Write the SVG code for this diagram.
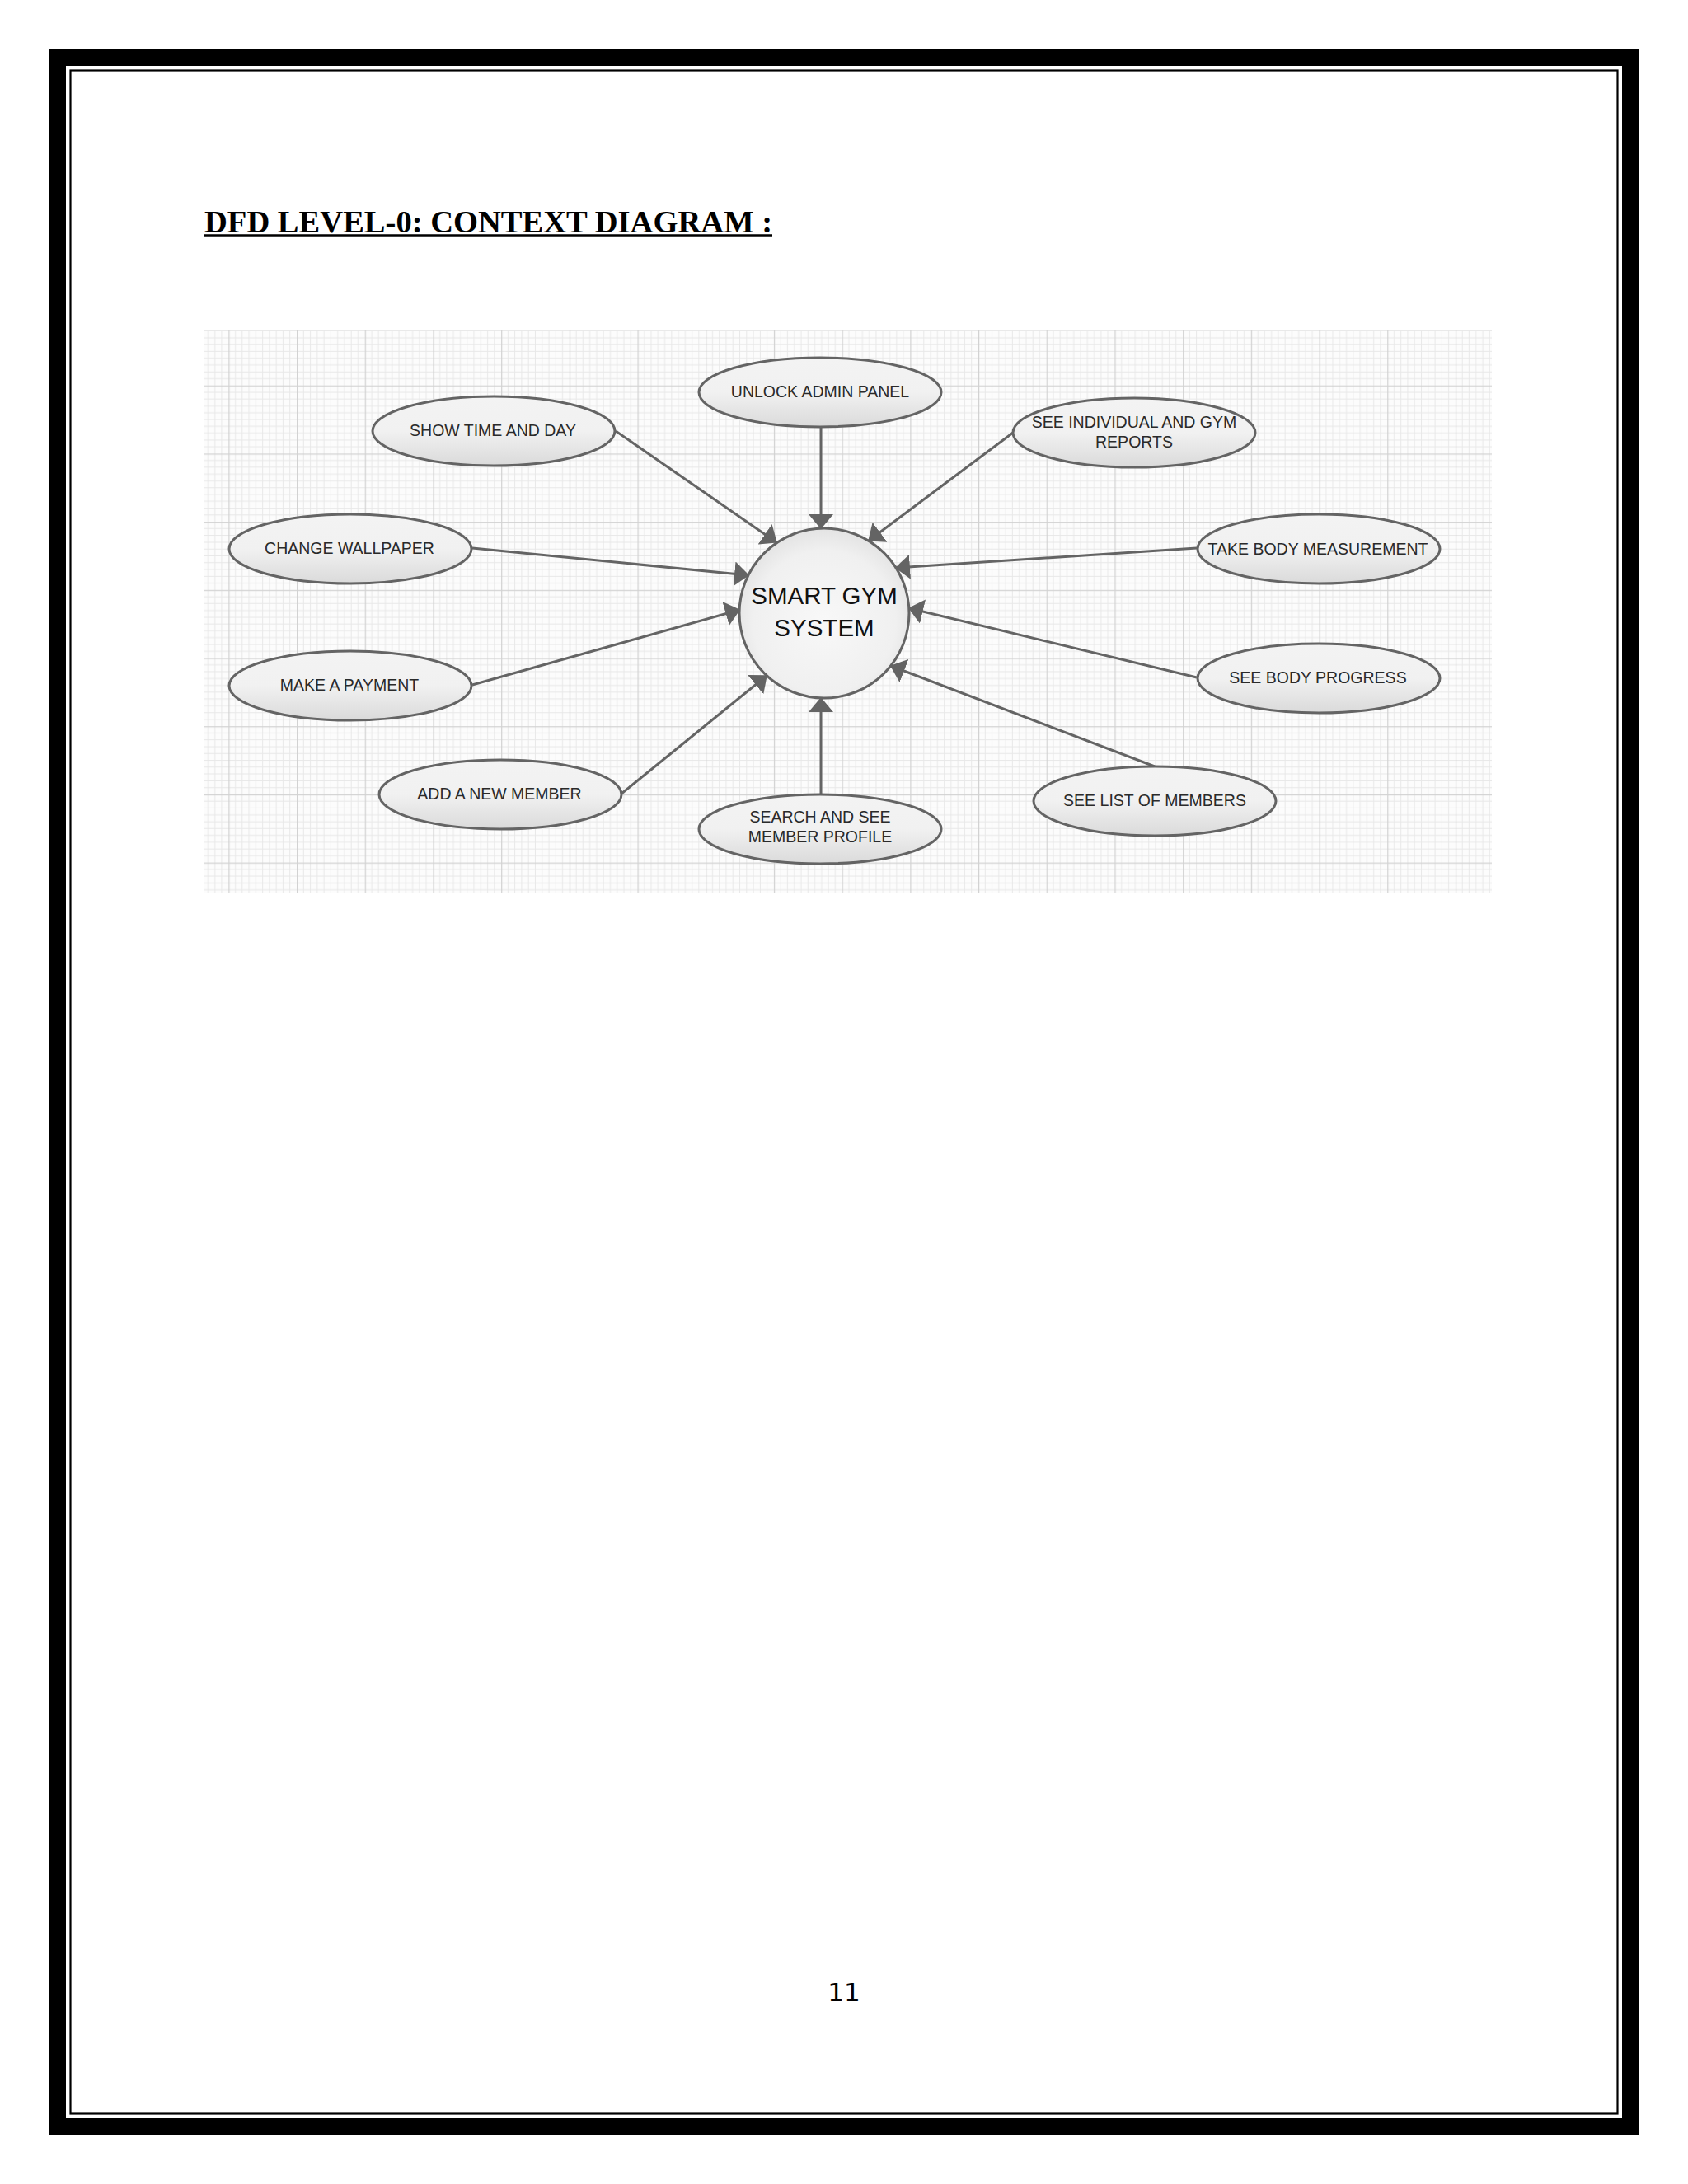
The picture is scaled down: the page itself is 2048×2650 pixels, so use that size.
<svg xmlns="http://www.w3.org/2000/svg" width="2048" height="2650" viewBox="0 0 2048 2650">
<style>
.node ellipse{fill:url(#eg);stroke:#646464;stroke-width:3}
.lbl{font-family:"Liberation Sans",Arial,sans-serif;font-size:19.5px;fill:#2a2a2a;text-anchor:middle}
.conn line{stroke:#646464;stroke-width:3;marker-end:url(#arr)}
</style>
<defs>
<linearGradient id="eg" x1="0" y1="0" x2="0" y2="1">
<stop offset="0" stop-color="#f3f3f3"/>
<stop offset="0.5" stop-color="#f1f1f1"/>
<stop offset="1" stop-color="#dadada"/>
</linearGradient>
<radialGradient id="cg" cx="0.5" cy="0.55" r="0.6">
<stop offset="0" stop-color="#f8f8f8"/>
<stop offset="0.7" stop-color="#f0f0f0"/>
<stop offset="1" stop-color="#dedede"/>
</radialGradient>
<pattern id="grid" x="277.3" y="467.7" width="82.7" height="82.7" patternUnits="userSpaceOnUse">
<path d="M8.27 0V82.7M16.54 0V82.7M24.81 0V82.7M33.08 0V82.7M41.35 0V82.7M49.62 0V82.7M57.89 0V82.7M66.16 0V82.7M74.43 0V82.7M0 8.27H82.7M0 16.54H82.7M0 24.81H82.7M0 33.08H82.7M0 41.35H82.7M0 49.62H82.7M0 57.89H82.7M0 66.16H82.7M0 74.43H82.7" stroke="#e8e8e8" stroke-width="1" fill="none"/>
<path d="M0.6 0V82.7M0 0.6H82.7" stroke="#d2d2d2" stroke-width="1.3" fill="none"/>
</pattern>
<marker id="arr" viewBox="0 0 18 30" markerWidth="18" markerHeight="30" refX="17" refY="15" orient="auto" markerUnits="userSpaceOnUse">
<path d="M0 0L18 15L0 30z" fill="#646464"/>
</marker>
</defs>
<rect x="0" y="0" width="2048" height="2650" fill="#ffffff"/>
<g id="frame" fill="none">
<rect x="70" y="70" width="1908" height="2510" stroke="#000" stroke-width="20"/>
<rect x="85.5" y="85.5" width="1877" height="2479" stroke="#000" stroke-width="2.2"/>
</g>
<g id="title">
<text x="248" y="282" font-family="'Liberation Serif','Times New Roman',serif" font-weight="bold" font-size="38" textLength="689" lengthAdjust="spacingAndGlyphs" fill="#000">DFD LEVEL-0: CONTEXT DIAGRAM :</text>
<line x1="248" y1="285.5" x2="937" y2="285.5" stroke="#000" stroke-width="2.5"/>
</g>
<g id="canvas">
<rect x="248" y="400" width="1562" height="683" fill="#fcfcfc"/>
<rect x="248" y="400" width="1562" height="683" fill="url(#grid)"/>
</g>
<g id="connectors" class="conn">
<line x1="996" y1="518" x2="996" y2="641"/>
<line x1="747" y1="523" x2="942" y2="658"/>
<line x1="1229" y1="525" x2="1054" y2="656"/>
<line x1="573" y1="665" x2="908" y2="698"/>
<line x1="1452" y1="665" x2="1087" y2="689"/>
<line x1="573" y1="831" x2="897" y2="740"/>
<line x1="1452" y1="822" x2="1103" y2="738"/>
<line x1="754" y1="963" x2="930" y2="820"/>
<line x1="996" y1="964" x2="996" y2="847"/>
<line x1="1401" y1="930" x2="1081" y2="808"/>
</g>
<g id="smart-gym-system">
<circle cx="1000" cy="744" r="103" fill="url(#cg)" stroke="#646464" stroke-width="3"/>
<text x="1000" y="733" font-family="'Liberation Sans',Arial,sans-serif" font-size="29.5" fill="#111" text-anchor="middle">SMART GYM</text>
<text x="1000" y="771.5" font-family="'Liberation Sans',Arial,sans-serif" font-size="29.5" fill="#111" text-anchor="middle">SYSTEM</text>
</g>
<g id="unlock-admin-panel" class="node"><ellipse cx="995" cy="476" rx="147" ry="42"/><text class="lbl" x="995" y="482">UNLOCK ADMIN PANEL</text></g>
<g id="show-time-and-day" class="node"><ellipse cx="599" cy="523" rx="147" ry="42"/><text class="lbl" x="598" y="528.5">SHOW TIME AND DAY</text></g>
<g id="see-individual-and-gym-reports" class="node"><ellipse cx="1376" cy="525" rx="147" ry="42"/><text class="lbl" x="1376" y="519">SEE INDIVIDUAL AND GYM</text><text class="lbl" x="1376" y="543">REPORTS</text></g>
<g id="change-wallpaper" class="node"><ellipse cx="425" cy="666" rx="147" ry="42"/><text class="lbl" x="424" y="672">CHANGE WALLPAPER</text></g>
<g id="take-body-measurement" class="node"><ellipse cx="1600" cy="666" rx="147" ry="42"/><text class="lbl" x="1599" y="672.5">TAKE BODY MEASUREMENT</text></g>
<g id="make-a-payment" class="node"><ellipse cx="425" cy="832" rx="147" ry="42"/><text class="lbl" x="424" y="838">MAKE A PAYMENT</text></g>
<g id="see-body-progress" class="node"><ellipse cx="1600" cy="823" rx="147" ry="42"/><text class="lbl" x="1599" y="829">SEE BODY PROGRESS</text></g>
<g id="add-a-new-member" class="node"><ellipse cx="607" cy="964" rx="147" ry="42"/><text class="lbl" x="606" y="969.5">ADD A NEW MEMBER</text></g>
<g id="search-and-see-member-profile" class="node"><ellipse cx="995" cy="1006" rx="147" ry="42"/><text class="lbl" x="995" y="998">SEARCH AND SEE</text><text class="lbl" x="995" y="1022">MEMBER PROFILE</text></g>
<g id="see-list-of-members" class="node"><ellipse cx="1401" cy="972" rx="147" ry="42"/><text class="lbl" x="1401" y="978">SEE LIST OF MEMBERS</text></g>
<g id="page-number">
<text x="1024" y="2428" font-family="'DejaVu Sans',sans-serif" font-size="31" fill="#000" text-anchor="middle">11</text>
</g>
</svg>
